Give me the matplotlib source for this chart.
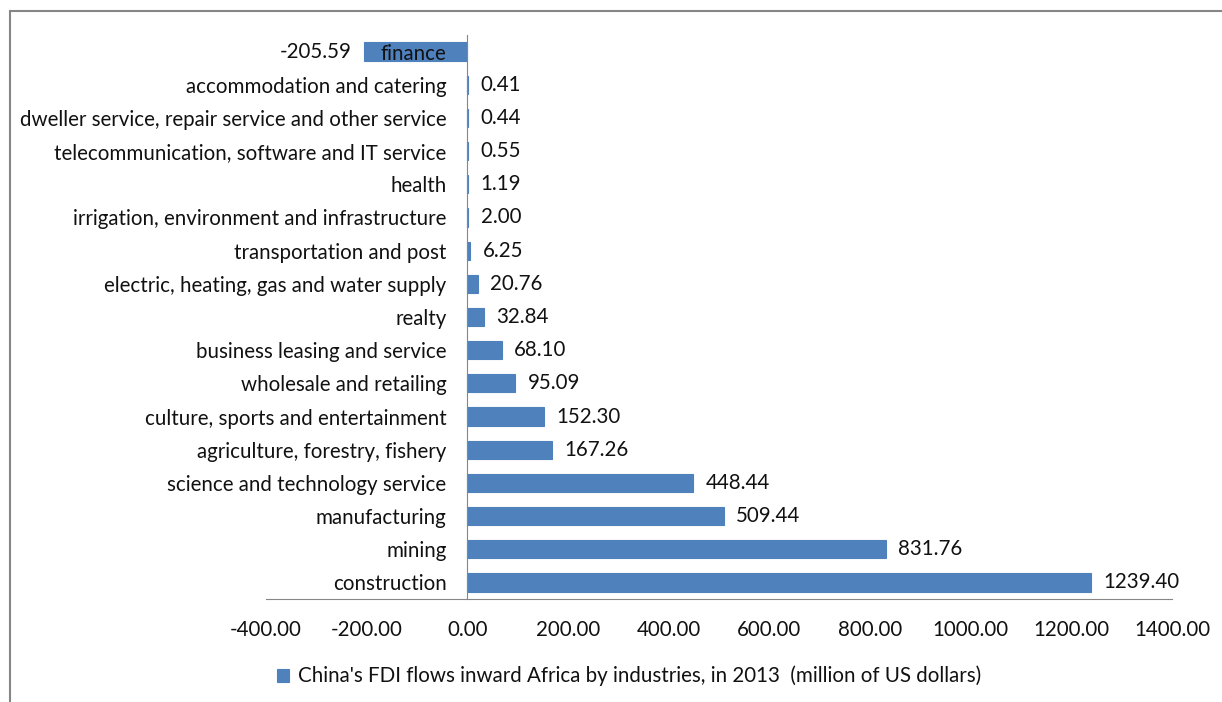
import matplotlib
matplotlib.use("Agg")
import matplotlib.pyplot as plt
from matplotlib.patches import Rectangle

industries = [
    "finance",
    "accommodation and catering",
    "dweller service, repair service and other service",
    "telecommunication, software and IT service",
    "health",
    "irrigation, environment and infrastructure",
    "transportation and post",
    "electric, heating, gas and water supply",
    "realty",
    "business leasing and service",
    "wholesale and retailing",
    "culture, sports and entertainment",
    "agriculture, forestry, fishery",
    "science and technology service",
    "manufacturing",
    "mining",
    "construction",
]
fdi_flows = [-205.59, 0.41, 0.44, 0.55, 1.19, 2.00, 6.25, 20.76, 32.84,
             68.10, 95.09, 152.30, 167.26, 448.44, 509.44, 831.76, 1239.40]
x_ticks = [-400, -200, 0, 200, 400, 600, 800, 1000, 1200, 1400]
series_name = "China's FDI flows inward Africa by industries, in 2013  (million of US dollars)"

BAR_COLOR = "#4F81BD"
TEXT_COLOR = "#111111"
LINE_COLOR = "#868686"
FS = 14.8

plt.rcParams["font.family"] = ["Lato", "DejaVu Sans"]

W, H = 1222, 702
fig = plt.figure(figsize=(W / 100, H / 100), dpi=100)
ax = fig.add_axes([266 / W, 1 - 599 / H, (1172 - 266) / W, (599 - 35) / H])

ypos = list(range(len(industries)))
bars = ax.barh(ypos, fdi_flows, height=0.55, color=BAR_COLOR, edgecolor=BAR_COLOR,
               linewidth=0.8, label=series_name)

ax.set_xlim(-400, 1400)
ax.set_ylim(len(industries) - 0.5, -0.5)

# category axis sits at zero, labels hang off it
ax.spines["left"].set_position(("data", 0))
ax.spines["left"].set_color(LINE_COLOR)
ax.spines["bottom"].set_color(LINE_COLOR)
ax.spines["top"].set_visible(False)
ax.spines["right"].set_visible(False)
ax.set_yticks(ypos)
ax.set_yticklabels(industries, fontsize=FS, color=TEXT_COLOR)
ax.tick_params(axis="y", length=0, pad=15)
ax.set_xticks(x_ticks)
ax.set_xticklabels([f"{v:.2f}" for v in x_ticks], fontsize=FS, color=TEXT_COLOR)
ax.tick_params(axis="x", length=0, pad=15)

for rect, val in zip(bars, fdi_flows):
    y = rect.get_y() + rect.get_height() / 2
    if val < 0:
        ax.annotate(f"{val:.2f}", xy=(val, y), xytext=(-9, 0), textcoords="offset points",
                    ha="right", va="center", fontsize=FS, color=TEXT_COLOR)
    else:
        ax.annotate(f"{val:.2f}", xy=(val, y), xytext=(9, 0), textcoords="offset points",
                    ha="left", va="center", fontsize=FS, color=TEXT_COLOR)

ax.legend(loc="center", bbox_to_anchor=(629 / W, 1 - 676 / H), bbox_transform=fig.transFigure,
          frameon=False, fontsize=FS, handlelength=0.6, handleheight=0.6, handletextpad=0.4,
          labelcolor=TEXT_COLOR)

# chart area border (cut off on right and bottom like the source)
fig.add_artist(Rectangle((10 / W, -0.1), 1.2, 1 - 11 / H + 0.1, transform=fig.transFigure,
                         fill=False, edgecolor=LINE_COLOR, linewidth=1.5))

fig.savefig("out.png", dpi=100)
